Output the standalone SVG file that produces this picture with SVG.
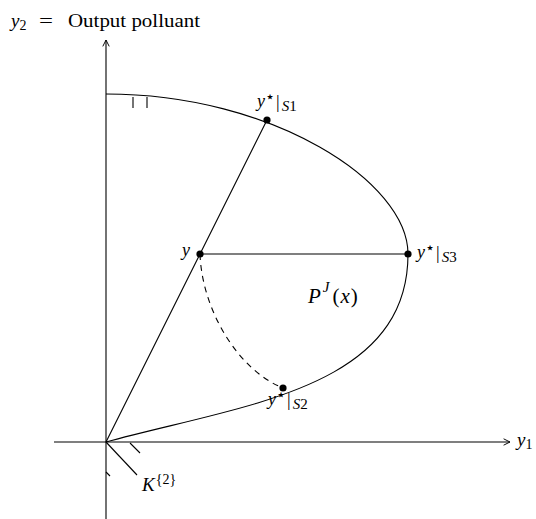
<svg xmlns="http://www.w3.org/2000/svg" width="536" height="519" viewBox="0 0 536 519">
<style>
.ln{fill:none;stroke:#000;stroke-width:1.1}
.ds{fill:none;stroke:#000;stroke-width:1.1;stroke-dasharray:6 5}
.t{font-family:"Liberation Serif","Times New Roman",serif;fill:#000}
.i{font-style:italic}
.st{font-family:"DejaVu Sans",sans-serif;font-size:16px}
.dot{fill:#000}
</style>
<defs>
<marker id="ar" viewBox="0 0 10 10" refX="9" refY="5" markerWidth="8" markerHeight="8" markerUnits="userSpaceOnUse" orient="auto">
<path d="M1,1 L9,5 L1,9" fill="none" stroke="#000" stroke-width="1.2"/>
</marker>
</defs>
<rect width="536" height="519" fill="#fff"/>
<g id="axes">
<line class="ln" x1="106" y1="519" x2="106" y2="40" marker-end="url(#ar)"/>
<line class="ln" x1="54" y1="442" x2="510" y2="442" marker-end="url(#ar)"/>
</g>
<g id="frontier">
<path class="ln" d="M106,94 C273,94 408,182 408,254 C408,390 240,405 106,442"/>
<line class="ln" x1="133" y1="97" x2="133" y2="108"/>
<line class="ln" x1="147" y1="97" x2="147" y2="108"/>
</g>
<g id="cone">
<line class="ln" x1="106" y1="442" x2="137" y2="475"/>
<line class="ln" x1="130" y1="443" x2="140" y2="453"/>
<line class="ln" x1="106" y1="472" x2="110" y2="476"/>
</g>
<g id="connectors">
<line class="ln" x1="106" y1="442" x2="267" y2="120"/>
<line class="ln" x1="200" y1="254" x2="408" y2="254"/>
<path class="ds" d="M200,254 C202,310 238,370 283,388"/>
</g>
<g id="node-y"><circle class="dot" cx="200" cy="254" r="3.6"/>
<text class="t i" x="182" y="256" font-size="18">y</text></g>
<g id="node-s1"><circle class="dot" cx="267" cy="120" r="3.6"/>
<text class="t" x="257" y="107" font-size="18"><tspan class="i">y</tspan><tspan class="st" dy="-5" dx="0">⋆</tspan><tspan dy="6" dx="1">|</tspan><tspan dy="3" dx="2" font-size="15" class="i">S</tspan><tspan font-size="15">1</tspan></text></g>
<g id="node-s3"><circle class="dot" cx="408" cy="254" r="3.6"/>
<text class="t" x="417" y="258" font-size="18"><tspan class="i">y</tspan><tspan class="st" dy="-5" dx="0">⋆</tspan><tspan dy="6" dx="1">|</tspan><tspan dy="3" dx="2" font-size="15" class="i">S</tspan><tspan font-size="15">3</tspan></text></g>
<g id="node-s2"><circle class="dot" cx="283" cy="388" r="3.6"/>
<text class="t" x="268" y="405" font-size="18"><tspan class="i">y</tspan><tspan class="st" dy="-5" dx="0">⋆</tspan><tspan dy="6" dx="1">|</tspan><tspan dy="3" dx="2" font-size="15" class="i">S</tspan><tspan font-size="15">2</tspan></text></g>
<g id="label-p">
<text class="t" x="308" y="303" font-size="21"><tspan class="i">P</tspan><tspan dy="-11" dx="2" font-size="15" class="i">J</tspan><tspan dy="11" dx="3">(</tspan><tspan class="i" dx="1">x</tspan><tspan dx="1">)</tspan></text>
</g>
<g id="label-k">
<text class="t" x="142" y="491" font-size="19"><tspan class="i">K</tspan><tspan dy="-7" dx="1" font-size="14">{2}</tspan></text>
</g>
<g id="label-y1">
<text class="t" x="517" y="446" font-size="19"><tspan class="i">y</tspan><tspan dy="3" font-size="14">1</tspan></text>
</g>
<g id="label-y2">
<text class="t" x="11" y="27" font-size="19"><tspan class="i">y</tspan><tspan dy="3" font-size="14">2</tspan></text>
<text class="t" x="39" y="27" font-size="19" textLength="14" lengthAdjust="spacingAndGlyphs">=</text>
<text class="t" x="68" y="27" font-size="18" textLength="132" lengthAdjust="spacingAndGlyphs">Output polluant</text>
</g>
</svg>
